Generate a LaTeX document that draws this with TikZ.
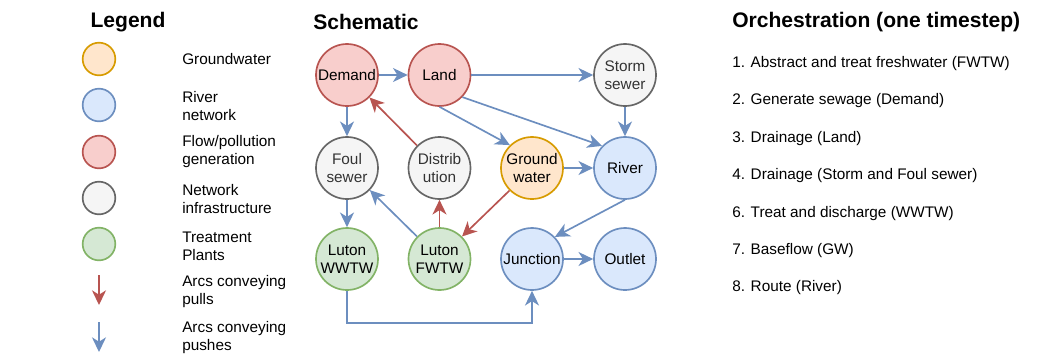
\documentclass[tikz,border=0pt]{standalone}
\usepackage{fontspec}
\setmainfont{Liberation Sans}
\usetikzlibrary{arrows.meta}
\definecolor{orF}{HTML}{FFE6CC}\definecolor{orD}{HTML}{D79B00}
\definecolor{blF}{HTML}{DAE8FC}\definecolor{blD}{HTML}{6C8EBF}
\definecolor{rdF}{HTML}{F8CECC}\definecolor{rdD}{HTML}{B85450}
\definecolor{grF}{HTML}{F5F5F5}\definecolor{grD}{HTML}{666666}
\definecolor{gnF}{HTML}{D5E8D4}\definecolor{gnD}{HTML}{82B366}
\definecolor{grT}{HTML}{333333}
\tikzset{
  base/.style={circle, line width=1.25pt, minimum size=46.5pt, inner sep=0pt, align=center,
    font=\fontsize{11.5}{13.5}\selectfont},
  orn/.style={base, fill=orF, draw=orD},
  bln/.style={base, fill=blF, draw=blD},
  rdn/.style={base, fill=rdF, draw=rdD},
  grn/.style={base, fill=grF, draw=grD, text=grT},
  gnn/.style={base, fill=gnF, draw=gnD},
  leg/.style={circle, line width=1.25pt, minimum size=24.5pt, inner sep=0pt},
  legtext/.style={anchor=west, align=left, inner sep=0pt, font=\fontsize{11.5}{13.5}\selectfont},
  title/.style={inner sep=0pt, font=\fontsize{15.8}{18}\selectfont\bfseries},
  item/.style={anchor=west, inner sep=0pt, font=\fontsize{11.5}{13.5}\selectfont},
  push/.style={draw=blD, line width=1.25pt, -{Stealth[length=11pt,width=10.5pt,inset=3.3pt]}},
  pull/.style={draw=rdD, line width=1.25pt, -{Stealth[length=11pt,width=10.5pt,inset=3.3pt]}},
}
\begin{document}
\begin{tikzpicture}[x=0.75pt,y=-0.75pt]
\useasboundingbox (0,0) rectangle (1054,355);
% titles
\node[title] (tleg) at (128,22) {Legend};
\node[title, anchor=west] (tsch) at (313,22) {Schematic};
\node[title, anchor=west] (torc) at (732,22) {Orchestration (one timestep)};
% legend
\node[leg, fill=orF, draw=orD] (l1) at (99,59) {};
\node[leg, fill=blF, draw=blD] (l2) at (99,105) {};
\node[leg, fill=rdF, draw=rdD] (l3) at (99,152) {};
\node[leg, fill=grF, draw=grD] (l4) at (99,198) {};
\node[leg, fill=gnF, draw=gnD] (l5) at (99,244) {};
\coordinate (a1s) at (99,275); \coordinate (a1e) at (99,305);
\coordinate (a2s) at (99,322); \coordinate (a2e) at (99,352);
\draw[pull] (a1s) -- (a1e);
\draw[push] (a2s) -- (a2e);
\node[legtext] (t1) at (182,59) {Groundwater};
\node[legtext] (t2) at (182,106) {River\\network};
\node[legtext] (t3) at (182,152) {Flow/pollution\\generation};
\node[legtext] (t4) at (182,199) {Network\\infrastructure};
\node[legtext] (t5) at (182,246) {Treatment\\Plants};
\node[legtext] (t6) at (182,292) {Arcs conveying\\pulls};
\node[legtext] (t7) at (182,338) {Arcs conveying\\pushes};
% schematic nodes
\node[rdn] (dem) at (347,75) {Demand};
\node[rdn] (land) at (439.5,75) {Land};
\node[grn] (storm) at (625,75) {Storm\\sewer};
\node[grn] (foul) at (347,168) {Foul\\sewer};
\node[grn] (dist) at (439.5,168) {Distrib\\ution};
\node[orn] (gw) at (532,168) {Ground\\water};
\node[bln] (river) at (625,168) {River};
\node[gnn] (wwtw) at (347,259) {Luton\\WWTW};
\node[gnn] (fwtw) at (439.5,259) {Luton\\FWTW};
\node[bln] (junc) at (532,259) {Junction};
\node[bln] (out) at (625,259) {Outlet};
% edges
\draw[push] (dem) -- (land);
\draw[push] (land) -- (storm);
\draw[push] (storm) -- (river);
\draw[push] (land.-44) -- (river.136);
\draw[push] (land.-90) -- (gw.134);
\draw[push] (dem) -- (foul);
\draw[pull] (dist.135) -- (dem.-45);
\draw[push] (gw) -- (river);
\draw[push] (foul) -- (wwtw);
\draw[push] (fwtw.135) -- (foul.-44);
\draw[pull] (fwtw) -- (dist);
\draw[pull] (gw.225) -- (fwtw.45);
\draw[push] (river.-90) -- (junc.44);
\draw[push] (junc) -- (out);
\draw[push] (wwtw.south) -- ++(0,32) -| (junc.south);
% orchestration
\node[item] (o1) at (732,64) {1. Abstract and treat freshwater (FWTW)};
\node[item] (o2) at (732,101) {2. Generate sewage (Demand)};
\node[item] (o3) at (732,139) {3. Drainage (Land)};
\node[item] (o4) at (732,176) {4. Drainage (Storm and Foul sewer)};
\node[item] (o5) at (732,214) {6. Treat and discharge (WWTW)};
\node[item] (o6) at (732,251) {7. Baseflow (GW)};
\node[item] (o7) at (732,288) {8. Route (River)};
\end{tikzpicture}
\end{document}
